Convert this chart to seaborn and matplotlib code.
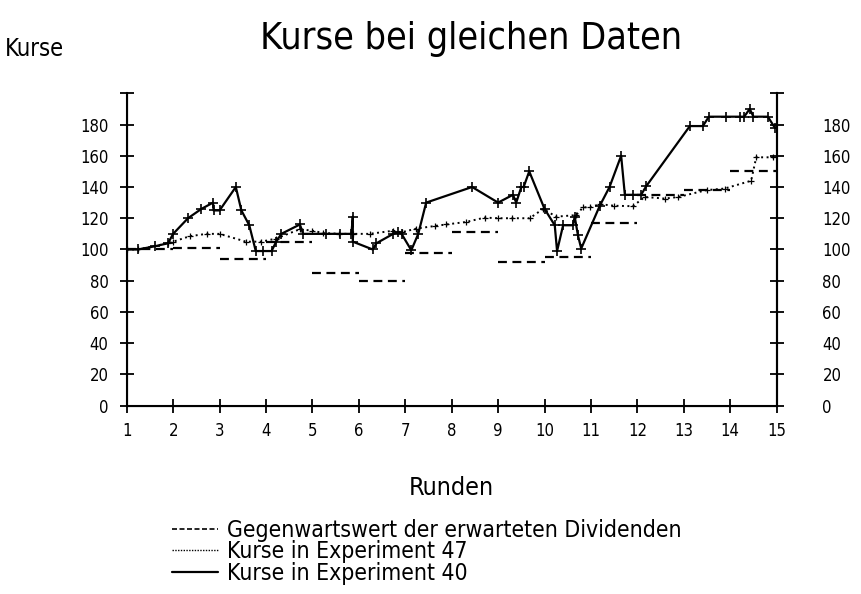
import matplotlib
matplotlib.use("Agg")
import matplotlib.pyplot as plt
import seaborn as sns
from matplotlib.lines import Line2D

# Daten
runden_start = [1, 2, 3, 4, 5, 6, 7, 8, 9, 10, 11, 12, 13, 14]
runden_ende = [2, 3, 4, 5, 6, 7, 8, 9, 10, 11, 12, 13, 14, 15]
dividenden = [100, 101, 94, 104.5, 85, 80, 98, 111, 92, 95, 117, 135, 138, 150]

x47 = [1.0, 1.24, 1.89, 2.0, 2.36, 2.72, 3.0, 3.57, 3.9, 4.22, 4.73, 5.0, 5.23, 5.58,
       5.87, 6.23, 6.74, 6.92, 7.24, 7.63, 7.88, 8.31, 8.71, 9.0, 9.3, 9.68, 9.97, 10.25,
       10.68, 10.83, 10.98, 11.19, 11.5, 11.9, 12.16, 12.59, 12.88, 13.49, 13.88, 14.45,
       14.56, 14.92]
y47 = [100, 100, 104, 105, 108.5, 110, 110, 105, 105, 107, 113, 112, 110.6, 110,
       110, 110, 112, 111, 113.4, 115, 116, 117.6, 120.4, 120, 120, 120, 126, 121,
       122, 127, 127, 129, 128, 127.7, 133.6, 132.6, 133.6, 138, 139, 144,
       159, 159]

x40 = [1.0, 1.24, 1.6, 1.89, 2.0, 2.32, 2.61, 2.86, 2.87, 3.0, 3.35, 3.47, 3.64, 3.78,
       3.94, 4.12, 4.22, 4.33, 4.73, 4.8, 5.3, 5.6, 5.84, 5.87, 5.87, 6.3, 6.38, 6.74,
       6.85, 6.92, 7.13, 7.28, 7.45, 8.44, 9.0, 9.32, 9.39, 9.5, 9.55, 9.67, 10.0,
       10.22, 10.27, 10.4, 10.61, 10.65, 10.72, 10.79, 11.19, 11.4, 11.65, 11.73,
       11.9, 12.08, 12.19, 13.13, 13.41, 13.54, 13.9, 14.2, 14.3, 14.42, 14.5, 14.81,
       14.96]
y40 = [100, 100, 102, 104, 110, 120, 126, 130, 125, 125, 140, 125, 115.5, 99,
       99, 99, 105, 110, 116, 110, 110, 110, 110, 121, 105, 100, 104, 110,
       111, 110, 99.5, 110, 130, 140, 130, 135, 130, 140, 140, 150, 126,
       115.5, 99, 115.5, 115.5, 121, 109, 100.6, 128, 140, 160, 135,
       135, 135, 140.5, 179, 179, 185, 185, 185, 185, 190, 185, 185,
       178]

x_ticks = list(range(1, 16))
y_ticks = list(range(0, 201, 20))
y_labels = [str(v) if v < 200 else "" for v in y_ticks]

sns.set_style("ticks")
plt.rcParams["font.family"] = ["DejaVu Sans"]
plt.rcParams["font.stretch"] = "condensed"
for k in ["text.color", "axes.labelcolor", "xtick.color", "ytick.color", "axes.edgecolor"]:
    plt.rcParams[k] = "black"

fig = plt.figure(figsize=(8.62, 5.94), dpi=100)
ax = fig.add_axes([0.147, 0.317, 0.754, 0.526])

ax.hlines(dividenden, runden_start, runden_ende, colors="black",
          linestyles=(0, (4, 2.5)), linewidth=1.6)
sns.lineplot(x=x47, y=y47, ax=ax, color="black", linestyle=(0, (1, 1.8)),
             linewidth=1.4, marker="+", markersize=5, markeredgewidth=0.9,
             markeredgecolor="black", sort=False, estimator=None)
sns.lineplot(x=x40, y=y40, ax=ax, color="black", linestyle="-",
             linewidth=1.6, marker="+", markersize=6.5, markeredgewidth=1.2,
             markeredgecolor="black", sort=False, estimator=None)

ax.set_xlim(1, 15)
ax.set_ylim(0, 200)
ax.set_xticks(x_ticks)
ax.set_yticks(y_ticks)
ax.set_yticklabels(y_labels)
ax.tick_params(axis="both", direction="inout", length=10, width=1.3,
               labelsize=12)
ax.tick_params(axis="x", pad=7)
ax.tick_params(axis="y", pad=8)
for s in ["left", "right", "bottom"]:
    ax.spines[s].set_linewidth(1.5)
ax.spines["top"].set_visible(False)

ax2 = ax.twinx()
ax2.set_ylim(0, 200)
ax2.set_yticks(y_ticks)
ax2.set_yticklabels(y_labels)
ax2.tick_params(axis="y", direction="inout", length=10, width=1.3,
                labelsize=12, pad=28)
ax2.spines["top"].set_visible(False)
ax2.spines["right"].set_linewidth(1.5)

ax.set_xlabel("Runden", fontsize=18, labelpad=26)
ax.set_ylabel("")
fig.text(0.006, 0.918, "Kurse", fontsize=17, ha="left", va="center")
fig.text(0.547, 0.935, "Kurse bei gleichen Daten", fontsize=27,
         ha="center", va="center")

griffe = [Line2D([], [], color="black", linestyle=(0, (3, 1.5)), linewidth=1.2),
          Line2D([], [], color="black", linestyle=(0, (1, 1)), linewidth=1.0),
          Line2D([], [], color="black", linestyle="-", linewidth=1.6)]
texte = ["Gegenwartswert der erwarteten Dividenden",
         "Kurse in Experiment 47",
         "Kurse in Experiment 40"]
fig.legend(griffe, texte, loc="upper left", bbox_to_anchor=(0.186, 0.145),
           frameon=False, fontsize=16.5, labelspacing=-0.08, handlelength=2.0,
           handletextpad=0.4, borderpad=0)

fig.savefig("out.png", dpi=100)
